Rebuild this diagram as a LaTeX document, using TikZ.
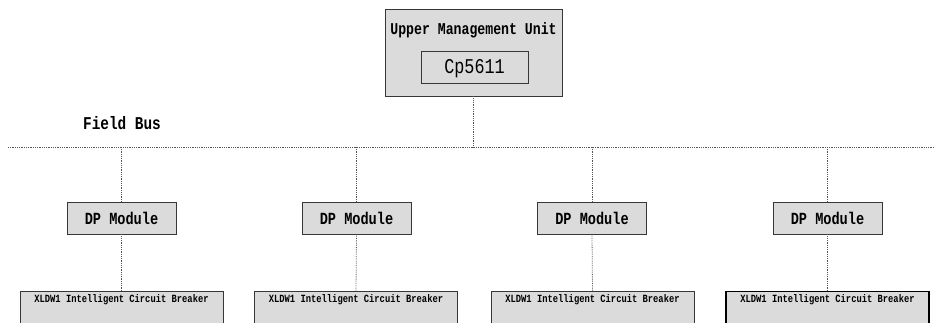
\documentclass[tikz,border=0pt]{standalone}
\usepackage{fontspec}
\usepackage{tikz}
\usetikzlibrary{positioning,calc}
\newfontfamily\gul[FakeStretch=0.8]{Liberation Mono}
\definecolor{boxgray}{RGB}{219,219,219}
\definecolor{edgegray}{RGB}{55,55,55}
\definecolor{dotgray}{RGB}{85,85,85}
\tikzset{
  mgr/.style={draw=edgegray, fill=boxgray, line width=0.9pt,
              minimum width=177pt, minimum height=87pt, inner sep=0pt},
  cpu/.style={draw=edgegray, fill=boxgray, line width=0.9pt,
              minimum width=107pt, minimum height=32pt, inner sep=0pt,
              font=\gul\fontsize{21}{21}\selectfont, text height=13.6pt, text depth=0pt},
  dpm/.style={draw=edgegray, fill=boxgray, line width=0.9pt,
              minimum width=109pt, minimum height=32pt, inner sep=0pt,
              font=\gul\bfseries\fontsize{17}{17}\selectfont, text height=12pt, text depth=0pt},
  brk/.style={draw=edgegray, fill=boxgray, line width=0.9pt, anchor=north,
              minimum width=203pt, inner xsep=0pt, inner ysep=4pt,
              font=\gul\bfseries\fontsize{11}{11}\selectfont, text height=7pt, text depth=40pt},
  ttl/.style={font=\gul\bfseries\fontsize{16.5}{16.5}\selectfont, anchor=base, inner sep=0pt},
  buslab/.style={font=\gul\bfseries\fontsize{18}{18}\selectfont, inner sep=0pt,
                 text height=12pt, text depth=0pt},
  dline/.style={dotgray, line width=0.8pt, densely dotted},
}
\begin{document}
\begin{tikzpicture}[x=1pt, y=-1pt]
  \useasboundingbox (0,0) rectangle (934,322);
  \clip (0,0) rectangle (934,322);
  % upper management unit
  \node[mgr] (ctrl) at (473.5,52.5) {};
  \node[ttl] (ctrltxt) at (473.5,34.5) {Upper Management Unit};
  \node[cpu] (cp) at (474.5,67) {Cp5611};
  % field bus
  \coordinate (busL) at (8,147);
  \coordinate (busR) at (934,147);
  \node[buslab] (buslbl) at (122,123) {Field Bus};
  \draw[dline] (busL) -- (busR);
  \draw[dline] (ctrl.south) -- (ctrl.south |- busL);
  % DP modules
  \node[dpm] (dp1) at (121.5,218) {DP Module};
  \node[dpm] (dp2) at (356.5,218) {DP Module};
  \node[dpm] (dp3) at (592,218) {DP Module};
  \node[dpm] (dp4) at (827.5,218) {DP Module};
  % breakers
  \node[brk] (cb1) at (121.5,291) {XLDW1 Intelligent Circuit Breaker};
  \node[brk] (cb2) at (356,291) {XLDW1 Intelligent Circuit Breaker};
  \node[brk] (cb3) at (592.5,291) {XLDW1 Intelligent Circuit Breaker};
  \node[brk, draw=black, line width=1.4pt] (cb4) at (827.5,291) {XLDW1 Intelligent Circuit Breaker};
  % drops
  \draw[dline] (dp1.north |- busL) -- (dp1.north);
  \draw[dline] (dp2.north |- busL) -- (dp2.north);
  \draw[dline] (dp3.north |- busL) -- (dp3.north);
  \draw[dline] (dp4.north |- busL) -- (dp4.north);
  \draw[dline] (dp1.south) -- (cb1.north);
  \draw[dline] (dp2.south) -- (cb2.north);
  \draw[dline] (dp3.south) -- (cb3.north);
  \draw[dline] (dp4.south) -- (cb4.north);
\end{tikzpicture}
\end{document}
